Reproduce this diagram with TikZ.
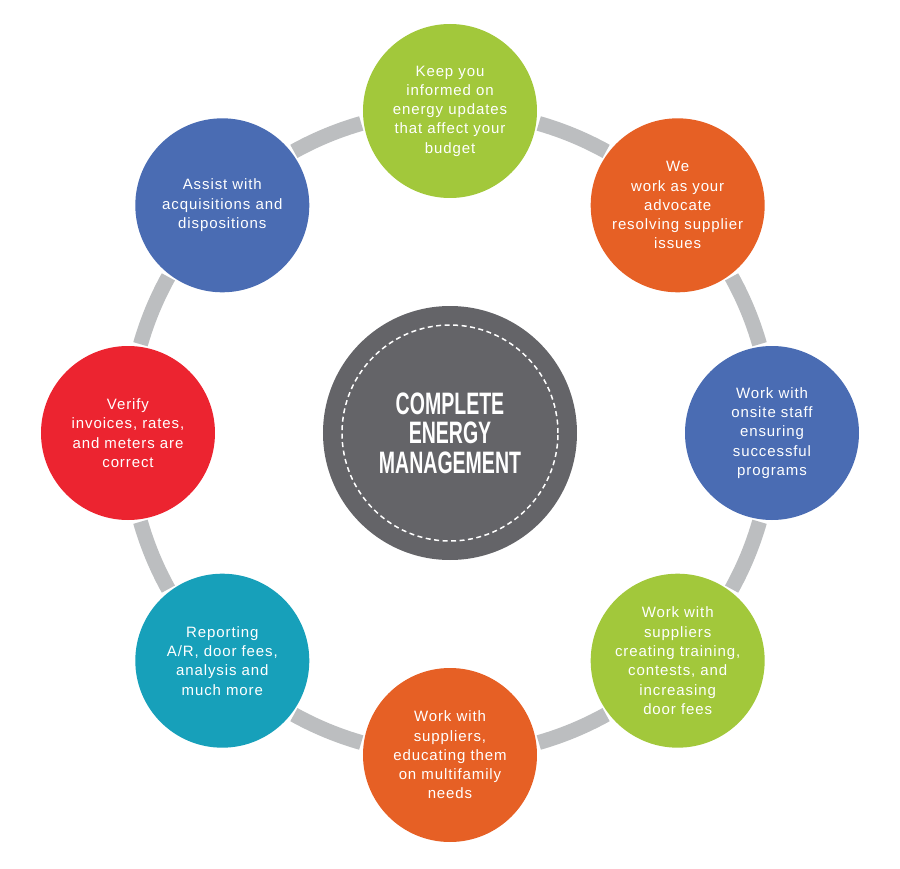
\documentclass[tikz,border=0pt]{standalone}
\usepackage{fontspec}
\setmainfont{Liberation Sans}
\newfontfamily\spotfont[LetterSpace=6]{Liberation Sans}
\usepackage{graphicx}
\usepackage{tikz}
\definecolor{leaf}{HTML}{A2C83B}
\definecolor{rust}{HTML}{E66025}
\definecolor{navy}{HTML}{4A6CB3}
\definecolor{ruby}{HTML}{EC2430}
\definecolor{teal}{HTML}{17A0BA}
\definecolor{slate}{HTML}{646468}
\definecolor{ringgrey}{HTML}{BCBEC0}
\tikzset{
  spot/.style={circle,minimum size=174pt,inner sep=0pt,text=white,align=center,
    font=\spotfont\fontsize{15}{19.3}\selectfont},
  hubdisc/.style={circle,fill=slate,minimum size=254pt,inner sep=0pt},
  ringseg/.style={draw=ringgrey,line width=15pt},
  title/.style={text=white,align=center,font=\fontsize{31}{29.5}\selectfont\bfseries},
}
\newcommand{\narrow}[1]{\scalebox{0.63}[1]{#1}}

\begin{document}
\begin{tikzpicture}[x=1pt,y=1pt]
  \useasboundingbox (-450,-435) rectangle (450,433);
  % ring pieces between the spots
  \foreach \a in {22.5,67.5,...,337.5}
    \draw[ringseg] (\a-6.5:322) arc[start angle=\a-6.5,end angle=\a+6.5,radius=322];
  % hub
  \node[hubdisc] (hub) at (0,0) {};
  \draw[white,line width=1.5pt,dash pattern=on 5pt off 3.5pt] (hub.center) circle[radius=108];
  \node[title] (hubtext) at (hub.center)
    {\narrow{COMPLETE}\\\narrow{ENERGY}\\\narrow{MANAGEMENT}};
  % spots around the ring
  \node[spot,fill=leaf] (news) at (90:322) {Keep you\\informed on\\energy updates\\that affect your\\budget};
  \node[spot,fill=rust] (advocate) at (45:322) {We\\work as your\\advocate\\resolving supplier\\issues};
  \node[spot,fill=navy] (onsite) at (0:322) {Work with\\onsite staff\\ensuring\\successful\\programs};
  \node[spot,fill=leaf] (training) at (-45:322) {Work with\\suppliers\\creating training,\\contests, and\\increasing\\door fees};
  \node[spot,fill=rust] (educate) at (-90:322) {Work with\\suppliers,\\educating them\\on multifamily\\needs};
  \node[spot,fill=teal] (report) at (-135:322) {Reporting\\A/R, door fees,\\analysis and\\much more};
  \node[spot,fill=ruby] (verify) at (180:322) {Verify\\invoices, rates,\\and meters are\\correct};
  \node[spot,fill=navy] (assist) at (135:322) {Assist with\\acquisitions and\\dispositions};
\end{tikzpicture}
\end{document}
